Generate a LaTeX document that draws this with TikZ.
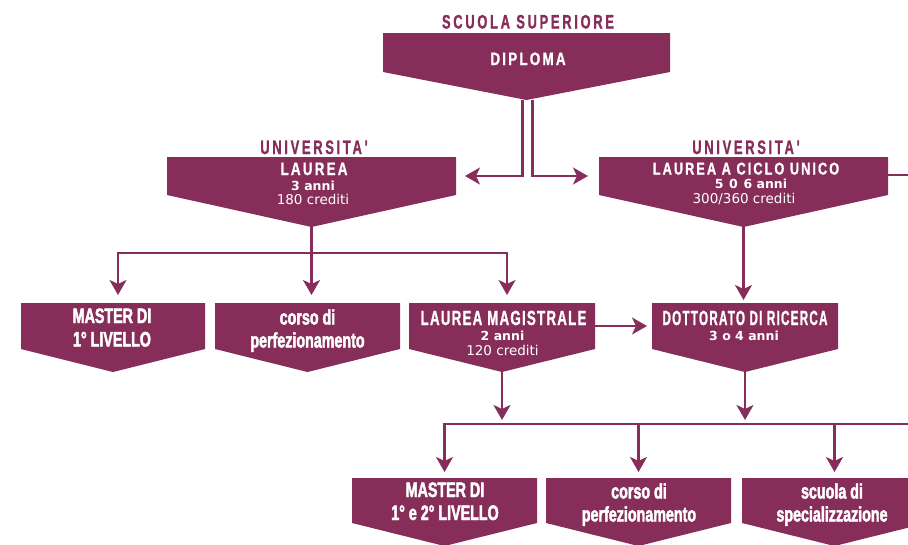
\documentclass[tikz,border=0pt]{standalone}
\usepackage{fontspec}
\setmainfont{Liberation Sans}
\newfontfamily\spcf[FakeStretch=0.75,LetterSpace=12,FakeBold=1]{Liberation Sans}
\newfontfamily\sptf[FakeStretch=0.66,LetterSpace=14,FakeBold=1]{Liberation Sans}
\newfontfamily\spbf[FakeStretch=0.65,LetterSpace=6,FakeBold=1]{Liberation Sans}
\newfontfamily\spdf[FakeStretch=0.57,LetterSpace=6,FakeBold=1]{Liberation Sans}
\newfontfamily\hvyf[FakeStretch=0.68,FakeBold=2]{Liberation Sans}
\newfontfamily\smlf{DejaVu Sans}
\usetikzlibrary{calc,arrows.meta}
\definecolor{wine}{RGB}{134,45,89}
\newcommand\pentbox[2]{%
  \coordinate (#1T) at ($(#1.south)+(0,#2)$);
  \fill[wine] (#1.north west) -- (#1.north east) -- (#1.south east) -- (#1T) -- (#1.south west) -- cycle;}
\tikzset{
  boxn/.style={rectangle, inner sep=0pt, outer sep=0pt},
  txt/.style={inner sep=0pt, anchor=base},
  tcap/.style={txt, font=\sptf\bfseries\fontsize{19.5}{21}\selectfont, text=wine},
  twht/.style={txt, font=\spcf\bfseries\fontsize{18}{20}\selectfont, text=white},
  twhs/.style={txt, font=\spcf\bfseries\fontsize{17}{20}\selectfont, text=white},
  tsp2/.style={txt, font=\spbf\bfseries\fontsize{20.5}{23}\selectfont, text=white},
  tsp3/.style={txt, font=\spdf\bfseries\fontsize{20.5}{23}\selectfont, text=white},
  thvy/.style={txt, font=\hvyf\bfseries\fontsize{21}{23}\selectfont, text=white},
  tnum/.style={txt, font=\smlf\bfseries\fontsize{12.5}{14}\selectfont, text=white},
  tcred/.style={txt, font=\smlf\fontsize{13.5}{15}\selectfont, text=white},
  line/.style={draw=wine, line width=2.2pt},
  arr/.style={line, -{Stealth[length=15pt,width=17pt,inset=4pt]}}
}
\begin{document}
\begin{tikzpicture}[x=1pt,y=-1pt]
\path[use as bounding box] (0,0) rectangle (908,544);
\clip (0,0) rectangle (908,544);
% box geometry (rectangular parts)
\node[boxn, minimum width=287pt, minimum height=39pt] (dip) at (526.5,52.5) {};
\node[boxn, minimum width=289pt, minimum height=38pt] (lau) at (311.5,176) {};
\node[boxn, minimum width=289pt, minimum height=38pt] (lcu) at (743.5,176) {};
\node[boxn, minimum width=184pt, minimum height=46pt] (m1) at (113,326) {};
\node[boxn, minimum width=185pt, minimum height=46pt] (cp1) at (307.5,326) {};
\node[boxn, minimum width=186pt, minimum height=46pt] (lm) at (502,326) {};
\node[boxn, minimum width=186pt, minimum height=46pt] (dr) at (745,326) {};
\node[boxn, minimum width=185pt, minimum height=45pt] (m2) at (444.5,500.5) {};
\node[boxn, minimum width=185pt, minimum height=45pt] (cp2) at (638.5,500.5) {};
\node[boxn, minimum width=185pt, minimum height=45pt] (sc) at (834.5,500.5) {};
\pentbox{dip}{28}
\pentbox{lau}{32}
\pentbox{lcu}{32}
\pentbox{m1}{23}
\pentbox{cp1}{23}
\pentbox{lm}{23}
\pentbox{dr}{23}
\pentbox{m2}{23}
\pentbox{cp2}{23}
\pentbox{sc}{23}
% texts
\node[tcap] (tSS) at (528,28.5) {SCUOLA SUPERIORE};
\node[twht] (tDip) at (528,65) {DIPLOMA};
\node[tcap] (tU1) at (314,154) {UNIVERSITA'};
\node[tcap] (tU2) at (746,154) {UNIVERSITA'};
\node[twht] (tLau) at (314,175) {LAUREA};
\node[tnum] (tLau2) at (313,190) {3 anni};
\node[tcred] (tLau3) at (313,204) {180 crediti};
\node[twhs] (tLcu) at (746,174.5) {LAUREA A CICLO UNICO};
\node[tnum] (tLcu2) at (751,188.5) {5\hspace{0.45em}0\hspace{0.45em}6 anni};
\node[tcred] (tLcu3) at (744,203.5) {300/360 crediti};
\node[thvy] (tM1a) at (112,323) {MASTER DI};
\node[thvy] (tM1b) at (112,346.5) {1° LIVELLO};
\node[thvy] (tC1a) at (307.5,324.5) {corso di};
\node[thvy] (tC1b) at (307.5,347.5) {perfezionamento};
\node[tsp2] (tLMa) at (503.5,325) {LAUREA MAGISTRALE};
\node[tnum] (tLMb) at (502.5,340.5) {2 anni};
\node[tcred] (tLMc) at (502.5,355) {120 crediti};
\node[tsp3] (tDRa) at (745,325) {DOTTORATO DI RICERCA};
\node[tnum] (tDRb) at (744,340.5) {3 o 4 anni};
\node[thvy] (tM2a) at (445,497) {MASTER DI};
\node[thvy] (tM2b) at (445,520) {1° e 2° LIVELLO};
\node[thvy] (tC2a) at (639,498.5) {corso di};
\node[thvy] (tC2b) at (639,521.5) {perfezionamento};
\node[thvy] (tS2a) at (832,498.5) {scuola di};
\node[thvy] (tS2b) at (832,521.5) {specializzazione};
% connectors
\coordinate (edgeA) at (912,175);
\coordinate (b1L) at (118,253);
\coordinate (b1R) at (507,253);
\coordinate (b2L) at (445,424);
\coordinate (b2R) at (912,424);
\draw[arr, shorten >=9pt] ([xshift=-4pt]dipT) |- (lau.east);
\draw[arr, shorten >=11pt] ([xshift=6pt]dipT) |- (lcu.west);
\draw[line] (lcu.east |- edgeA) -- (edgeA);
\draw[arr, shorten >=8pt] (lauT) |- (b1L) -- (b1L |- m1.north);
\draw[arr, shorten >=8pt] (lauT) |- (b1R) -- (b1R |- lm.north);
\draw[arr, shorten >=8pt] (lauT) -- (lauT |- cp1.north);
\draw[arr, shorten >=3pt] (lcuT) -- (lcuT |- dr.north);
\draw[arr, shorten >=5pt] (lm.east) -- (dr.west);
\draw[arr, shorten >=4pt] (lmT) -- (lmT |- b2L);
\draw[arr, shorten >=4pt] (drT) -- (drT |- b2L);
\draw[arr, shorten >=6pt] (b2R) -| (m2.north);
\draw[arr, shorten >=6pt] (cp2.north |- b2L) -- (cp2.north);
\draw[arr, shorten >=6pt] (sc.north |- b2L) -- (sc.north);
\end{tikzpicture}
\end{document}
